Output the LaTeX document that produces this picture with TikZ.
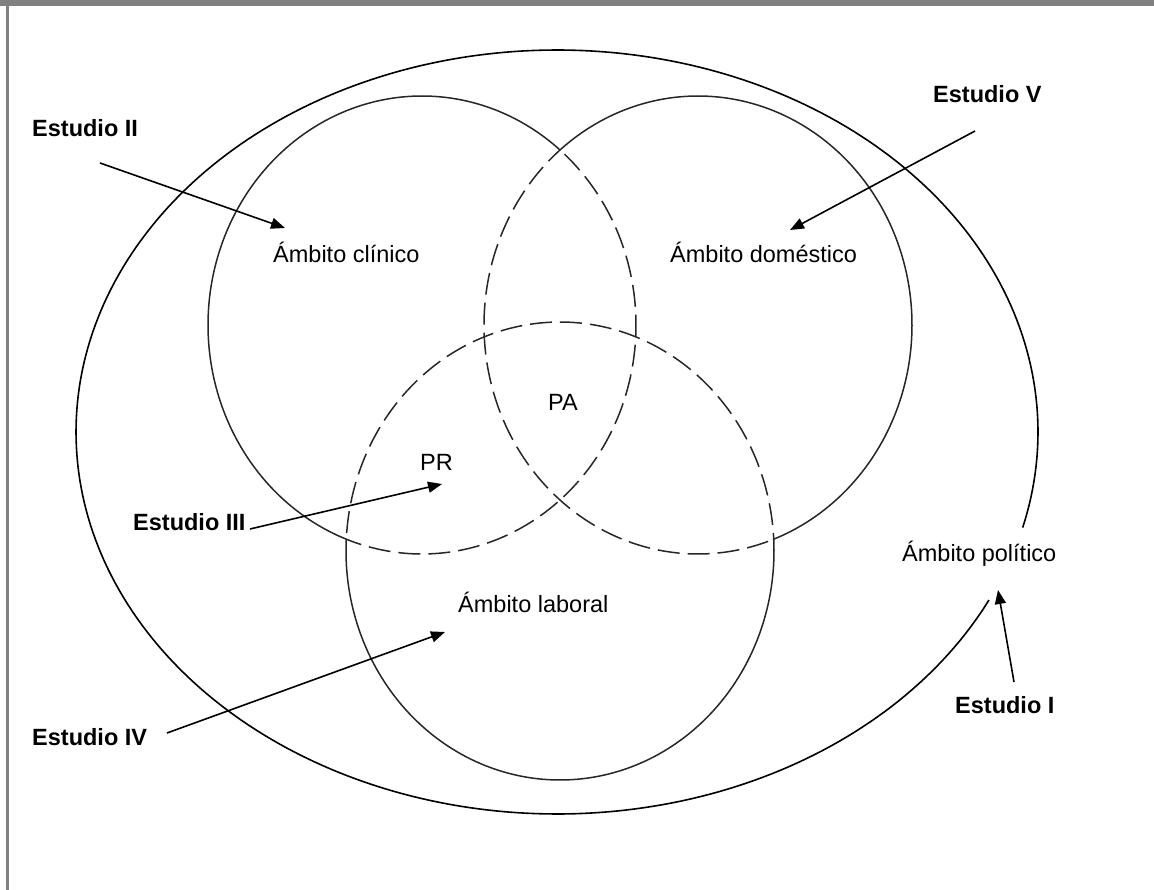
\documentclass[tikz,border=0pt]{standalone}
\usepackage{fontspec}
\setmainfont{Liberation Sans}
\usetikzlibrary{arrows.meta}
\definecolor{frame}{HTML}{808080}
\definecolor{ringcol}{HTML}{262626}
\tikzset{
  lbl/.style={anchor=base west, inner sep=0pt, font=\fontsize{23.5}{28}\selectfont},
  est/.style={lbl, font=\fontsize{23.5}{28}\selectfont\bfseries},
  arr/.style={line width=1.6pt, -{Triangle[length=14pt,width=11pt]}},
  ring/.style={line width=1.5pt, color=ringcol},
  ringdash/.style={ring, dash pattern=on 22pt off 8pt, dash phase=-6pt},
  outer/.style={line width=1.6pt, black}
}
\begin{document}
\begin{tikzpicture}[x=1pt,y=-1pt]
\useasboundingbox (0,0) rectangle (1154,890);
% frame
\fill[frame] (0,0) rectangle (1154,6);
\fill[frame] (6,6) rectangle (9,890);

% outer ellipse (political sphere), open where its label sits
\draw[outer, shift={(557,432)}] plot[domain=26.1:374.5, samples=300] ({481*cos(\x)},{382*sin(\x)});

% clinical sphere
\draw[ring, shift={(422,325)}] plot[domain=110.7:310.2, samples=200] ({214*cos(\x)},{229*sin(\x)});
\draw[ringdash, shift={(422,325)}] plot[domain=-49.8:110.7, samples=200] ({214*cos(\x)},{229*sin(\x)});
% domestic sphere
\draw[ring, shift={(698,325)}] plot[domain=229.8:429.3, samples=200] ({214*cos(\x)},{229*sin(\x)});
\draw[ringdash, shift={(698,325)}] plot[domain=69.3:229.8, samples=200] ({214*cos(\x)},{229*sin(\x)});
% work sphere
\draw[ring, shift={(560,551)}] plot[domain=-3:183, samples=200] ({214*cos(\x)},{229*sin(\x)});
\draw[ringdash, shift={(560,551)}] plot[domain=183:357, samples=200] ({214*cos(\x)},{229*sin(\x)});

% labels
\node[est] (e2) at (32,137) {Estudio II};
\node[est] (e5) at (933,103) {Estudio V};
\node[est] (e3) at (133,530) {Estudio III};
\node[est] (e4) at (32,745) {Estudio IV};
\node[est] (e1) at (955,713) {Estudio I};
\node[lbl] (clin) at (273,263) {Ámbito clínico};
\node[lbl] (dom) at (670,263) {Ámbito doméstico};
\node[lbl] (pa) at (548,410) {PA};
\node[lbl] (pr) at (420,470) {PR};
\node[lbl] (lab) at (458,612) {Ámbito laboral};
\node[lbl] (pol) at (902,561) {Ámbito político};

% arrow ends
\coordinate (t2) at (100,163);  \coordinate (h2) at (285,228);
\coordinate (t5) at (975,131);  \coordinate (h5) at (790,230);
\coordinate (t3) at (250,529);  \coordinate (h3) at (442,484);
\coordinate (t4) at (167,733);  \coordinate (h4) at (445,632);
\coordinate (t1) at (1014,682); \coordinate (h1) at (998,590);

\draw[arr] (t2) -- (h2);
\draw[arr] (t5) -- (h5);
\draw[arr] (t3) -- (h3);
\draw[arr] (t4) -- (h4);
\draw[arr] (t1) -- (h1);
\end{tikzpicture}
\end{document}
